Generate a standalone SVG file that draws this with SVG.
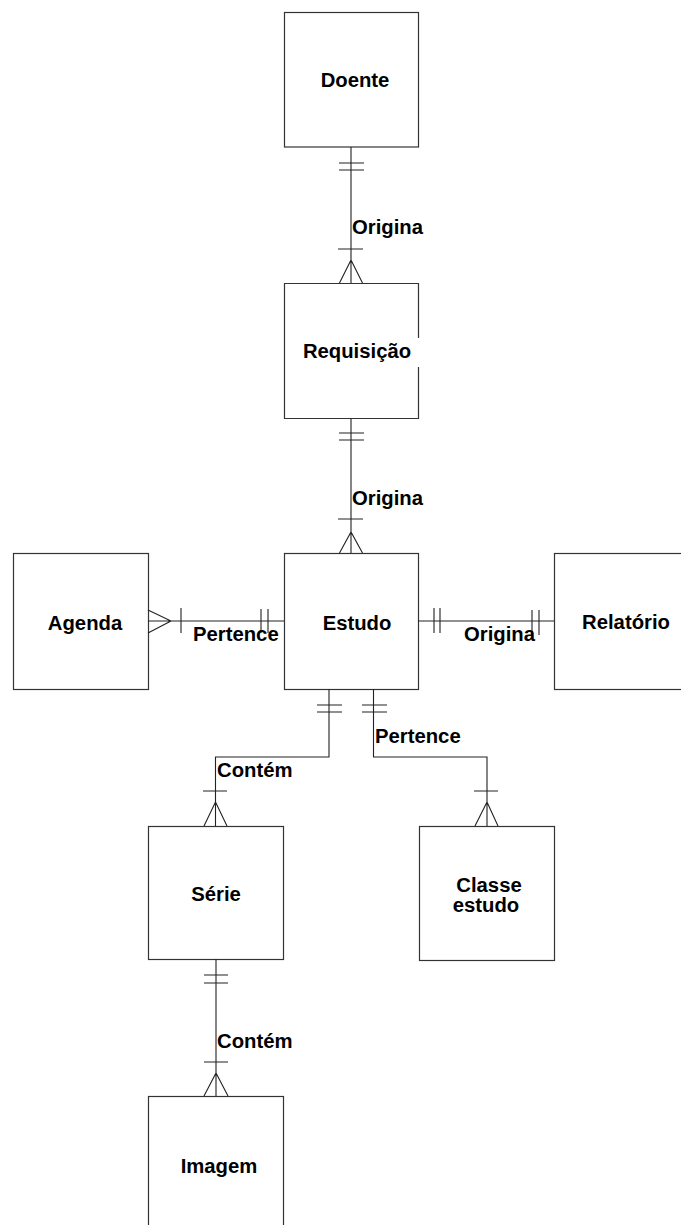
<svg xmlns="http://www.w3.org/2000/svg" width="681" height="1225" viewBox="0 0 681 1225">
  <style>
    .box { fill: #ffffff; stroke: #333333; stroke-width: 1.2; }
    .edge { fill: none; stroke: #222222; stroke-width: 1.1; }
    .name { font-family: "Liberation Sans", Arial, sans-serif; font-weight: bold; font-size: 20.3px; fill: #000000; text-anchor: middle; }
    .rel { font-family: "Liberation Sans", Arial, sans-serif; font-weight: bold; font-size: 20.3px; fill: #000000; }
  </style>
  <rect width="681" height="1225" fill="#ffffff"/>

  <!-- entities -->
  <g id="doente">
    <rect class="box" x="284.5" y="12.5" width="134" height="134.5"/>
    <text class="name" x="355" y="87">Doente</text>
  </g>
  <g id="requisicao">
    <path class="box" d="M418.5 338 V283.5 H284.5 V418.5 H418.5 V367"/>
    <text class="name" x="357" y="358">Requisição</text>
  </g>
  <g id="agenda">
    <rect class="box" x="13.5" y="553.5" width="135" height="136"/>
    <text class="name" x="85" y="630">Agenda</text>
  </g>
  <g id="estudo">
    <rect class="box" x="284.5" y="553.5" width="134" height="136"/>
    <text class="name" x="357" y="630">Estudo</text>
  </g>
  <g id="relatorio">
    <rect class="box" x="554.5" y="553.5" width="140" height="136"/>
    <text class="name" x="626" y="629">Relatório</text>
  </g>
  <g id="serie">
    <rect class="box" x="148.5" y="826.5" width="135" height="133"/>
    <text class="name" x="216" y="901">Série</text>
  </g>
  <g id="classe-estudo">
    <rect class="box" x="419.5" y="826.5" width="135" height="134"/>
    <text class="name" x="489" y="892">Classe</text>
    <text class="name" x="486" y="912">estudo</text>
  </g>
  <g id="imagem">
    <rect class="box" x="148.5" y="1096.5" width="135" height="140"/>
    <text class="name" x="219" y="1173">Imagem</text>
  </g>

  <!-- relationships with crow's-foot ends -->
  <g id="connectors">
    <!-- Doente to Requisição -->
    <path class="edge" d="M351 147 V283 M339 163 H364 M339 170 H364 M338 249 H363 M339.5 283 L351 260 L362.5 283"/>
    <text class="rel" x="352" y="234">Origina</text>

    <!-- Requisição to Estudo -->
    <path class="edge" d="M351 418 V553 M339 433 H364 M339 440 H364 M338 519 H363 M339.5 553 L351 532 L362.5 553"/>
    <text class="rel" x="352" y="505">Origina</text>

    <!-- Agenda to Estudo -->
    <path class="edge" d="M148 621 H284 M148 610 L171 621 L148 633 M181 608 V633 M261 609 V633 M268 609 V633"/>
    <text class="rel" x="193" y="641">Pertence</text>

    <!-- Estudo to Relatório -->
    <path class="edge" d="M418 621 H554 M434 608 V633 M440 608 V633 M532 610 V635 M539 610 V635"/>
    <text class="rel" x="464" y="641">Origina</text>

    <!-- Estudo to Série -->
    <path class="edge" d="M329 689 V757 H215.5 V826 M317 705 H342 M317 712 H342 M203 791 H227 M204 826 L215.5 802 L227 826"/>
    <text class="rel" x="217" y="777">Contém</text>

    <!-- Estudo to Classe estudo -->
    <path class="edge" d="M373.5 689 V757 H487 V826 M362 705 H387 M362 712 H387 M474 791 H498 M475 826 L487 802 L498 826"/>
    <text class="rel" x="375" y="743">Pertence</text>

    <!-- Série to Imagem -->
    <path class="edge" d="M216 959 V1096 M204 975 H228 M204 983 H228 M204 1062 H228 M204 1096 L216 1073 L228 1096"/>
    <text class="rel" x="217" y="1048">Contém</text>
  </g>
</svg>
